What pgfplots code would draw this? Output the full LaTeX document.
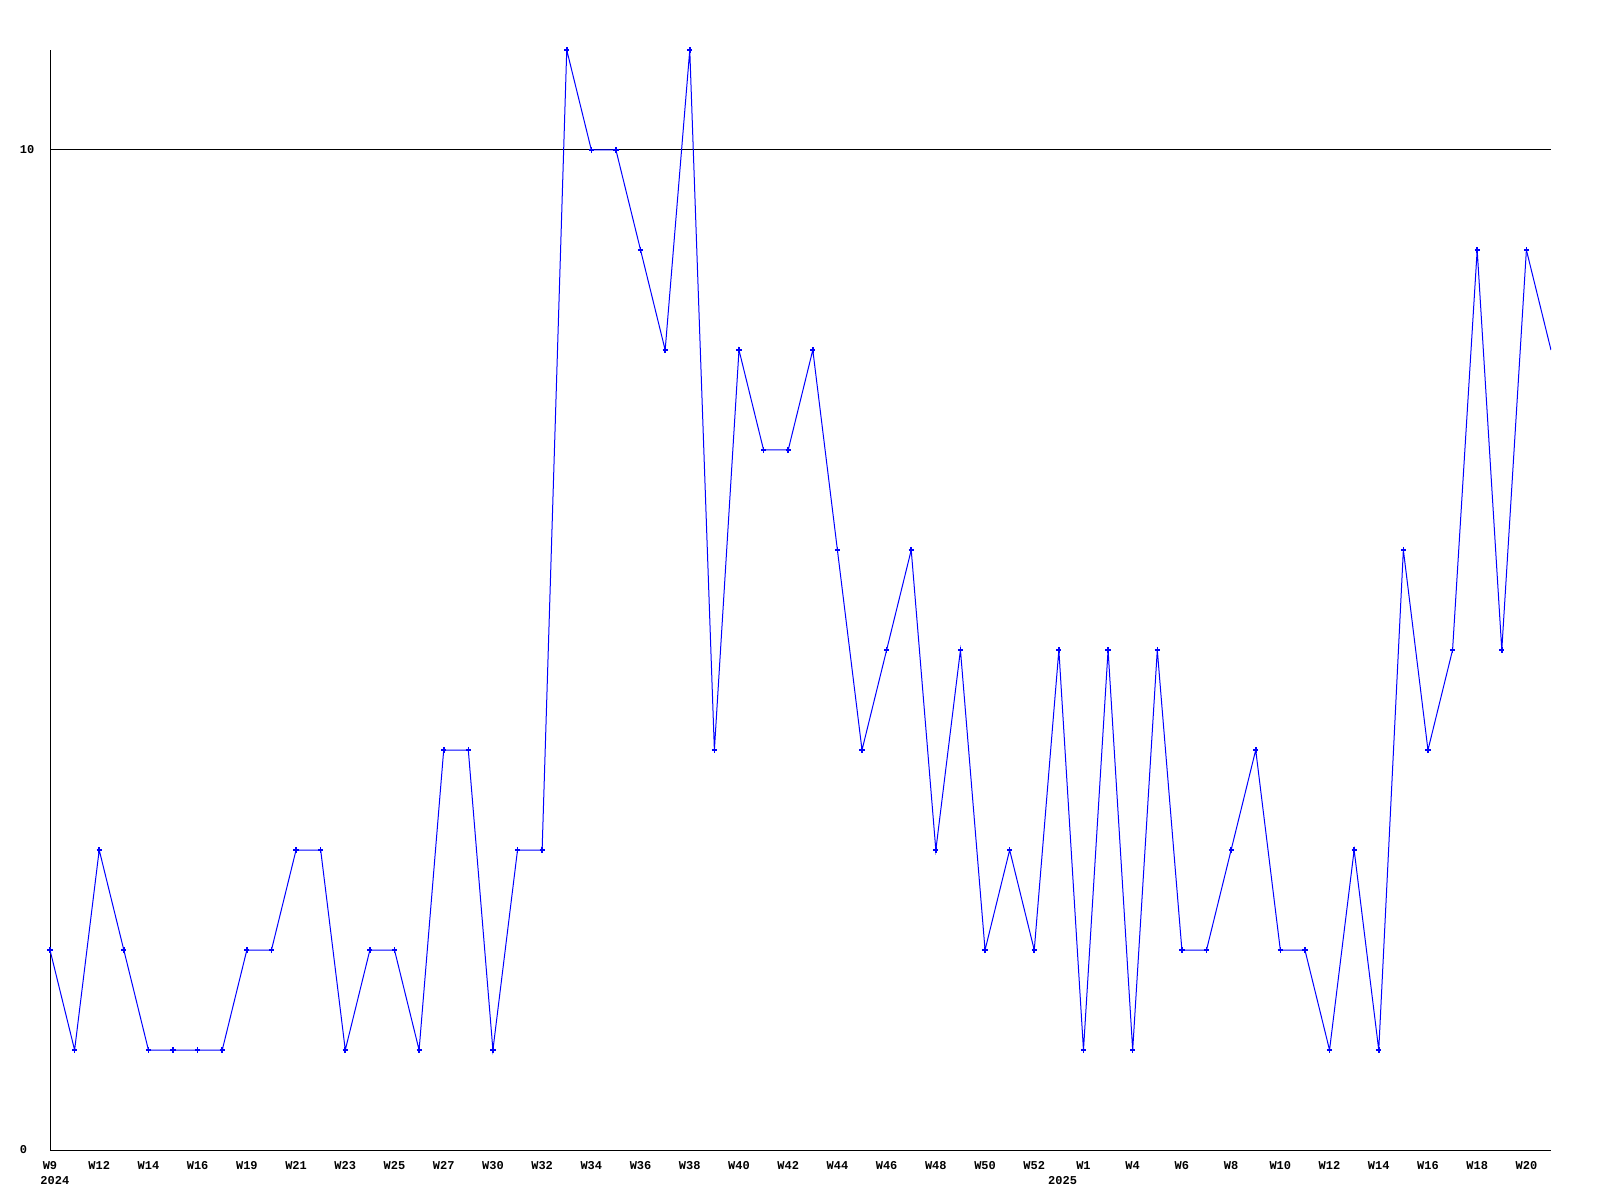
\documentclass[border=0pt]{standalone}
\usepackage{pgfplots}
\pgfplotsset{compat=1.18}
\usepackage{fontspec}
\setmainfont{Liberation Mono}
\definecolor{lineblue}{RGB}{0,0,255}
\begin{document}
\begin{tikzpicture}[x=1pt,y=1pt]
\path[use as bounding box] (0,0) rectangle (800,600);
\begin{axis}[
  at={(25pt,25pt)}, anchor=south west,
  scale only axis, width=750.5pt, height=550pt,
  xmin=0, xmax=61, ymin=0, ymax=11,
  axis x line*=bottom, axis y line*=left,
  axis line style={-, black, line width=0.5pt},
  major tick length=0pt,
  ytick={0,10},
  ymajorgrids, grid style={black, line width=0.5pt},
  xtick={0,2,...,60},
  xticklabels={W9,W12,W14,W16,W19,W21,W23,W25,W27,W30,W32,W34,W36,W38,W40,W42,W44,W46,W48,W50,W52,W1,W4,W6,W8,W10,W12,W14,W16,W18,W20},
  /pgf/number format/assume math mode=true,
  xticklabel style={font=\bfseries\fontsize{6pt}{7pt}\selectfont, anchor=north, inner sep=0pt, yshift=-5.5pt},
  yticklabel style={font=\bfseries\fontsize{6pt}{7pt}\selectfont, anchor=west, inner sep=0pt, xshift=-15.3pt},
  clip mode=individual,
]
\addplot[lineblue, line width=0.5pt, mark=+, mark size=1.3pt, mark options={line width=0.8pt}]
coordinates {
(0,2)(1,1)(2,3)(3,2)(4,1)(5,1)(6,1)(7,1)(8,2)(9,2)
(10,3)(11,3)(12,1)(13,2)(14,2)(15,1)(16,4)(17,4)(18,1)(19,3)
(20,3)(21,11)(22,10)(23,10)(24,9)(25,8)(26,11)(27,4)(28,8)(29,7)
(30,7)(31,8)(32,6)(33,4)(34,5)(35,6)(36,3)(37,5)(38,2)(39,3)
(40,2)(41,5)(42,1)(43,5)(44,1)(45,5)(46,2)(47,2)(48,3)(49,4)
(50,2)(51,2)(52,1)(53,3)(54,1)(55,6)(56,4)(57,5)(58,9)(59,5)
(60,9)
};
\addplot[lineblue, line width=0.5pt, no marks] coordinates {(60,9)(61,8)};
\node[font=\bfseries\fontsize{6pt}{7pt}\selectfont, anchor=north west, inner sep=0pt] at (axis cs:0,0) [xshift=-5pt, yshift=-13pt] {2024};
\node[font=\bfseries\fontsize{6pt}{7pt}\selectfont, anchor=north, inner sep=0pt] at (axis cs:41.15,0) [yshift=-13pt] {2025};
\end{axis}
\end{tikzpicture}
\end{document}
